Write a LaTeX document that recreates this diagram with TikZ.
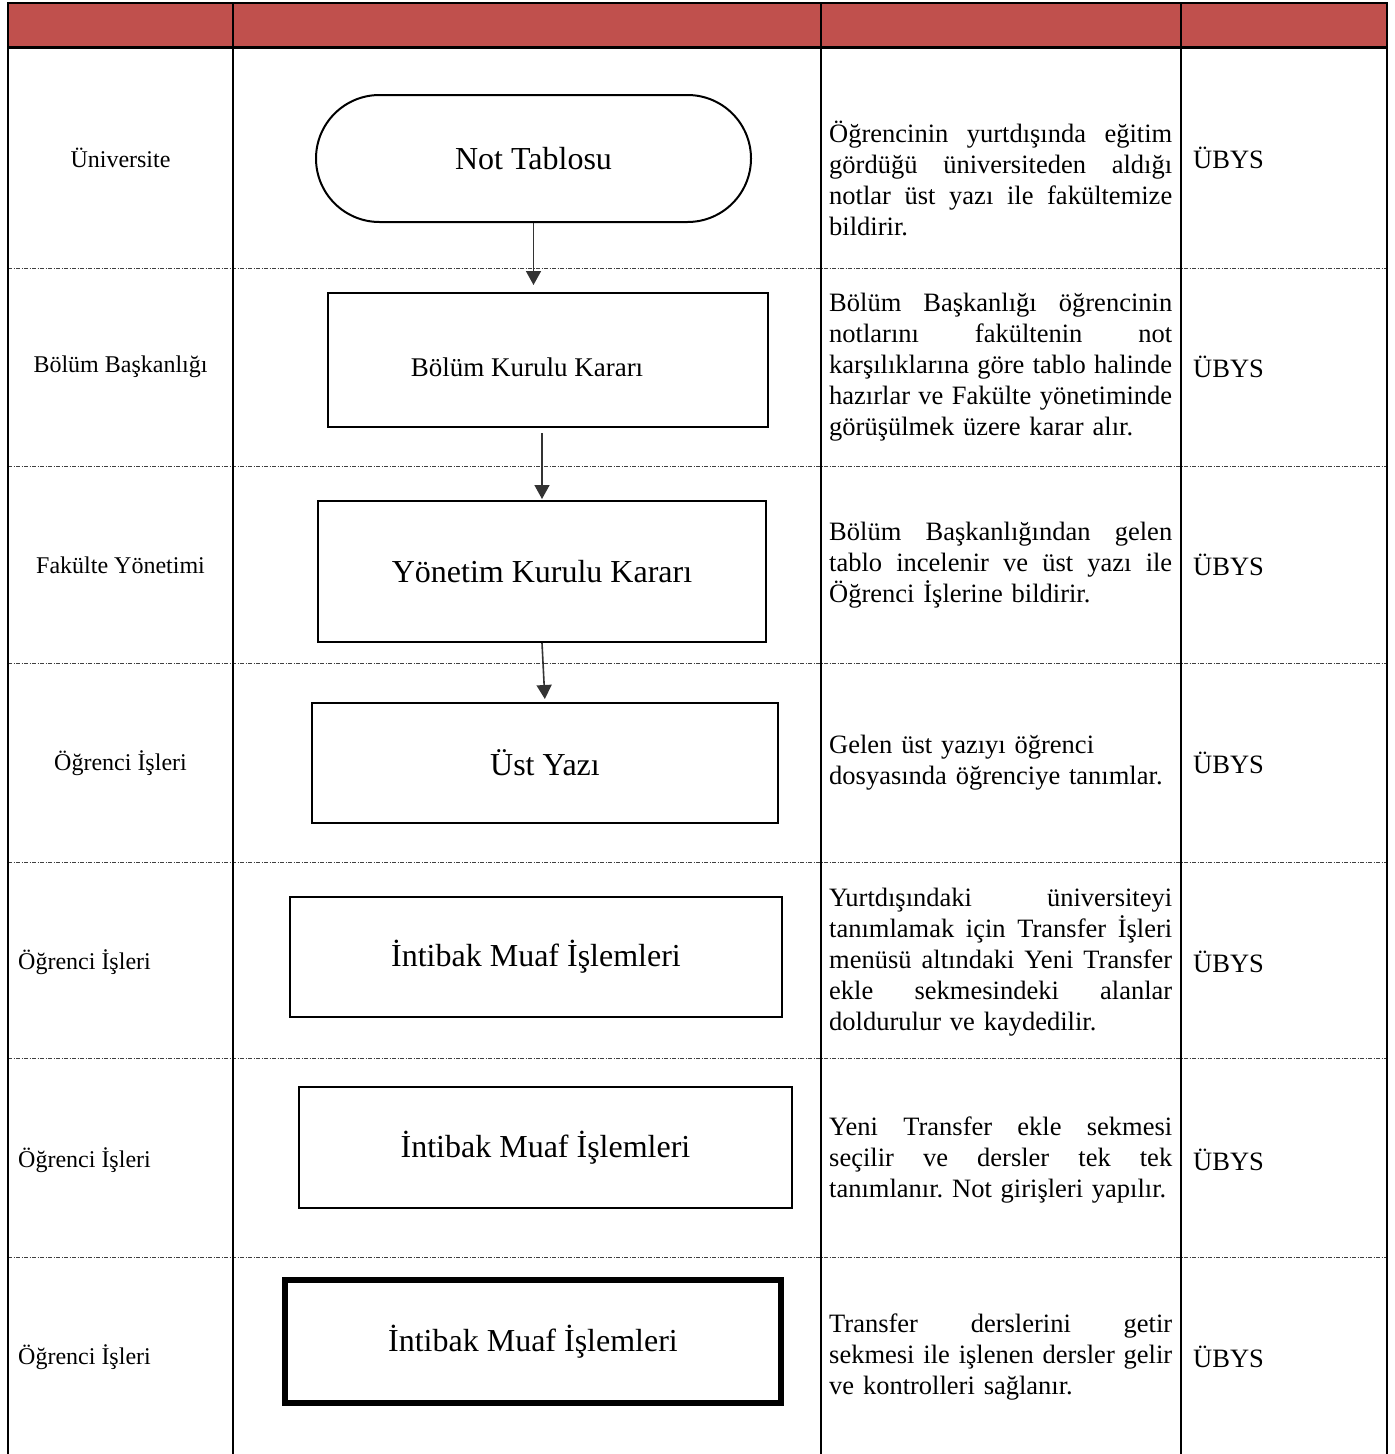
\documentclass[tikz,border=0pt]{standalone}
\usepackage{fontspec}
\setmainfont{Liberation Serif}
\usetikzlibrary{arrows.meta}
\definecolor{hdr}{RGB}{192,80,77}
\newcommand\jline[1]{{\spaceskip=0.25em plus 2em minus 0.1em\relax\xspaceskip=\spaceskip\makebox[343pt][s]{#1}}}
\frenchspacing
\begin{document}
\begin{tikzpicture}[x=1pt,y=-1pt,
  grid/.style={line width=2pt, black},
  sepline/.style={line width=0.9pt, black!75, dash pattern=on 4pt off 1.5pt on 1pt off 1.5pt},
  box/.style={draw, line width=2pt, rectangle, inner sep=0pt},
  big/.style={font=\fontsize{32}{36}\selectfont},
  lbl/.style={font=\fontsize{24}{28}\selectfont, inner sep=0pt},
  desc/.style={font=\fontsize{26.5}{31}\selectfont\frenchspacing, text width=352pt, align=left, inner sep=0pt, anchor=west},
  sys/.style={font=\fontsize{26.5}{31}\selectfont, inner sep=0pt, anchor=west},
  flow/.style={line width=1.6pt, black!80, -{Triangle[width=15pt,length=14pt]}},
]
\useasboundingbox (0,0) rectangle (1395,1454);
% header
\fill[hdr] (8,3) rectangle (1387,47);
% row separators
\foreach \yy in {268,466,663,862,1058,1257}
  \draw[sepline] (8,\yy) -- (1387,\yy);
% grid
\draw[grid] (8,1454) -- (8,3) -- (1387,3) -- (1387,1454);
\foreach \xx in {233,821,1181}
  \draw[grid] (\xx,3) -- (\xx,1454);
\draw[line width=3pt] (8,47) -- (1387,47);

% left labels
\node[lbl] (l1) at (120.5,158) {Üniversite};
\node[lbl] (l2) at (120.5,367) {Bölüm Başkanlığı};
\node[lbl] (l3) at (120.5,565) {Fakülte Yönetimi};
\node[lbl] (l4) at (120.5,763) {Öğrenci İşleri};
\node[lbl, anchor=west] (l5) at (18,962) {Öğrenci İşleri};
\node[lbl, anchor=west] (l6) at (18,1160) {Öğrenci İşleri};
\node[lbl, anchor=west] (l7) at (18,1357) {Öğrenci İşleri};

% flow shapes
\node[box, rounded corners=63.5pt, minimum width=435pt, minimum height=127pt, big] (term) at (533.5,158.5) {Not Tablosu};
\node[box, minimum width=440pt, minimum height=134pt] (b2) at (548,360) {};
\node[font=\fontsize{27}{31}\selectfont, inner sep=0pt] (b2t) at (527,367) {Bölüm Kurulu Kararı};
\node[box, minimum width=448pt, minimum height=141pt, big] (b3) at (542,571.5) {Yönetim Kurulu Kararı};
\node[box, minimum width=466pt, minimum height=120pt, big] (b4) at (545,763) {Üst Yazı};
\node[box, minimum width=492pt, minimum height=120pt, big] (b5) at (536,957) {İntibak Muaf İşlemleri};
\node[box, minimum width=493pt, minimum height=121pt, big] (b6) at (545.5,1147.5) {İntibak Muaf İşlemleri};
\node[box, line width=6pt, minimum width=496pt, minimum height=123pt, big] (b7) at (533,1341.5) {İntibak Muaf İşlemleri};

% connectors
\draw[flow, shorten >=7pt] (term.south) -- (term.south |- b2.north);
\draw[flow, shorten <=5pt, shorten >=1pt] (b3.north |- b2.south) -- (b3.north);
\draw[flow, shorten >=3pt] (b3.south) -- (b4.north);

% descriptions
\node[desc] (d1) at (829,178) {\jline{Öğrencinin yurtdışında eğitim}\\\jline{gördüğü üniversiteden aldığı}\\\jline{notlar üst yazı ile fakültemize}\\bildirir.};
\node[desc] (d2) at (829,367) {\jline{Bölüm Başkanlığı öğrencinin}\\\jline{notlarını fakültenin not}\\\jline{karşılıklarına göre tablo halinde}\\\jline{hazırlar ve Fakülte yönetiminde}\\görüşülmek üzere karar alır.};
\node[desc] (d3) at (829,565) {\jline{Bölüm Başkanlığından gelen}\\\jline{tablo incelenir ve üst yazı ile}\\Öğrenci İşlerine bildirir.};
\node[desc] (d4) at (829,763) {Gelen üst yazıyı öğrenci\\dosyasında öğrenciye tanımlar.};
\node[desc] (d5) at (829,962) {\jline{Yurtdışındaki üniversiteyi}\\\jline{tanımlamak için Transfer İşleri}\\\jline{menüsü altındaki Yeni Transfer}\\\jline{ekle sekmesindeki alanlar}\\doldurulur ve kaydedilir.};
\node[desc] (d6) at (829,1160) {\jline{Yeni Transfer ekle sekmesi}\\\jline{seçilir ve dersler tek tek}\\tanımlanır. Not girişleri yapılır.};
\node[desc] (d7) at (829,1357) {\jline{Transfer derslerini getir}\\\jline{sekmesi ile işlenen dersler gelir}\\ve kontrolleri sağlanır.};

% system column
\node[sys] (s1) at (1193,158) {ÜBYS};
\node[sys] (s2) at (1193,367) {ÜBYS};
\node[sys] (s3) at (1193,565) {ÜBYS};
\node[sys] (s4) at (1193,763) {ÜBYS};
\node[sys] (s5) at (1193,962) {ÜBYS};
\node[sys] (s6) at (1193,1160) {ÜBYS};
\node[sys] (s7) at (1193,1357) {ÜBYS};
\end{tikzpicture}
\end{document}
